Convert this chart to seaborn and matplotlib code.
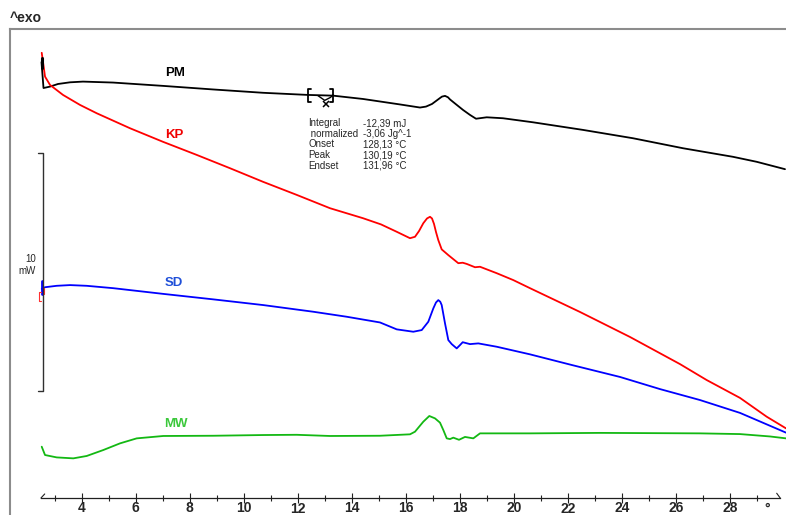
import matplotlib
matplotlib.use("Agg")
import matplotlib.pyplot as plt
from matplotlib.transforms import ScaledTranslation
import numpy as np
import pandas as pd
import seaborn as sns

# ---- DSC traces (x: time axis units, y: heat flow in mW, curves offset) ----
pm_x = [2.511, 2.585, 2.826, 3.122, 3.567, 4.048, 5.159, 7.011, 8.863, 10.715,
        12.381, 13.307, 14.419, 15.789, 16.530, 16.752, 16.974, 17.270, 17.344,
        17.456, 17.567, 17.641, 17.826, 18.122, 18.381, 18.604, 19.000, 19.604,
        20.715, 22.567, 24.419, 26.270, 28.122, 29.000, 30.048]
pm_y = [19.03, 17.94, 18.00, 18.11, 18.18, 18.21, 18.17, 18.03, 17.88, 17.74,
        17.65, 17.62, 17.48, 17.25, 17.12, 17.16, 17.27, 17.52, 17.58,
        17.61, 17.55, 17.46, 17.29, 17.02, 16.81, 16.65, 16.71, 16.67,
        16.50, 16.18, 15.83, 15.41, 15.05, 14.84, 14.53]

kp_x = [2.519, 2.641, 2.826, 3.307, 3.937, 4.556, 5.789, 7.011, 8.259, 9.493,
        10.715, 11.963, 13.196, 14.419, 15.085, 15.667, 16.159, 16.344, 16.493,
        16.652, 16.789, 16.900, 16.974, 17.048, 17.122, 17.207, 17.333, 17.578,
        17.948, 18.111, 18.259, 18.567, 18.752, 19.370, 19.985, 20.604, 22.456,
        24.307, 26.159, 27.148, 28.381, 29.370, 30.085]
kp_y = [19.42, 18.42, 18.07, 17.65, 17.23, 16.88, 16.25, 15.68, 15.13, 14.57,
        14.00, 13.45, 12.89, 12.47, 12.21, 11.90, 11.63, 11.69, 11.93,
        12.26, 12.46, 12.53, 12.46, 12.23, 11.89, 11.55, 11.16, 10.92,
        10.58, 10.60, 10.55, 10.41, 10.43, 10.16, 9.87, 9.53, 8.53,
        7.48, 6.34, 5.67, 4.92, 4.13, 3.64]

sd_x = [2.519, 2.641, 3.074, 3.567, 4.185, 5.170, 7.022, 8.874, 10.726, 12.578,
        13.815, 15.048, 15.667, 16.281, 16.593, 16.837, 17.022, 17.122, 17.207,
        17.280, 17.333, 17.456, 17.578, 17.704, 17.889, 18.011, 18.111, 18.381,
        18.689, 19.370, 20.604, 22.159, 23.937, 25.419, 26.900, 28.381, 30.085]
sd_y = [9.50, 9.57, 9.63, 9.66, 9.63, 9.53, 9.29, 9.06, 8.82, 8.54,
        8.33, 8.09, 7.80, 7.70, 7.77, 8.12, 8.68, 8.93, 9.03,
        8.96, 8.82, 8.05, 7.35, 7.18, 7.00, 7.14, 7.26, 7.18,
        7.21, 7.07, 6.75, 6.30, 5.80, 5.29, 4.83, 4.29, 3.46]

mw_x = [2.519, 2.641, 3.074, 3.689, 4.185, 4.800, 5.419, 6.037, 7.022, 8.874,
        10.726, 11.963, 13.196, 15.048, 16.159, 16.344, 16.652, 16.874, 17.085,
        17.270, 17.393, 17.519, 17.641, 17.763, 17.974, 18.196, 18.504, 18.752,
        19.370, 20.604, 23.196, 26.900, 28.381, 29.493, 30.085]
mw_y = [2.87, 2.52, 2.42, 2.38, 2.48, 2.73, 3.01, 3.22, 3.32, 3.33,
        3.36, 3.37, 3.32, 3.33, 3.39, 3.50, 3.92, 4.16, 4.06,
        3.88, 3.57, 3.22, 3.19, 3.25, 3.16, 3.28, 3.22, 3.43,
        3.43, 3.43, 3.45, 3.43, 3.40, 3.30, 3.22]

curve_names = ["PM", "KP", "SD", "MW"]
line_colors = ["#000000", "#ff0000", "#0000ff", "#13b813"]
label_colors = ["#000000", "#f00000", "#1f4fd8", "#3cc83c"]
label_pos = [(7.44, 18.57), (7.42, 15.97), (7.42, 9.75), (7.49, 3.82)]

major_ticks = [4, 6, 8, 10, 12, 14, 16, 18, 20, 22, 24, 26, 28]
minor_ticks = [3, 5, 7, 9, 11, 13, 15, 17, 19, 21, 23, 25, 27, 29]
tick_labels = [str(t) for t in major_ticks]

result_names = ["Integral", " normalized", "Onset", "Peak", "Endset"]
result_values = ["-12,39 mJ", "-3,06 Jg^-1", "128,13 °C", "130,19 °C", "131,96 °C"]

# ---- figure ----
sns.set_style("white")
plt.rcParams["font.family"] = ["Liberation Sans", "DejaVu Sans"]

fig = plt.figure(figsize=(7.86, 5.15), dpi=100)
ax = fig.add_axes([10 / 786, 0, 776 / 786, 486 / 515])
ax.set_xlim(1.344, 30.085)
ax.set_ylim(0, 20.42)

frame_gray = "#8c8c8c"
for side in ("left", "top"):
    ax.spines[side].set_color(frame_gray)
    ax.spines[side].set_linewidth(1.5)
ax.spines["right"].set_visible(False)

# curves
for name, xs, ys, col in zip(curve_names, [pm_x, kp_x, sd_x, mw_x],
                             [pm_y, kp_y, sd_y, mw_y], line_colors):
    df = pd.DataFrame({"t": xs, "hf": ys})
    sns.lineplot(data=df, x="t", y="hf", color=col, lw=1.3, sort=False,
                 estimator=None, ax=ax)
ax.set_xlabel("")
ax.set_ylabel("")

# time axis drawn as a floating spine
axis_y = 0.714
ax.spines["bottom"].set_position(("data", axis_y))
ax.spines["bottom"].set_bounds(2.49, 29.87)
ax.spines["bottom"].set_color("#202020")
ax.spines["bottom"].set_linewidth(0.9)
ax.set_yticks([])
ax.set_xticks(major_ticks)
ax.set_xticklabels(tick_labels, fontsize=10, fontweight="bold")
ax.set_xticks(minor_ticks, minor=True)
ax.tick_params(axis="x", which="both", bottom=True)
ax.tick_params(axis="x", which="major", direction="inout", length=7.5,
               width=0.8, color="#202020", pad=-1.6)
ax.tick_params(axis="x", which="minor", direction="inout", length=4.5,
               width=0.8, color="#202020")
for lbl in ax.get_xticklabels():
    if lbl.get_text() in ("12", "22"):
        lbl.set_transform(lbl.get_transform()
                          + ScaledTranslation(0, -1 / 100, fig.dpi_scale_trans))
# little slanted end marks of the axis
ax.plot([2.49, 2.63], [axis_y, axis_y + 0.17], color="#202020", lw=0.8)
ax.plot([29.74, 29.87], [axis_y + 0.2, axis_y], color="#202020", lw=0.8)
ax.text(29.37, 0.55, "°", ha="center", va="top",
        fontsize=10, fontweight="bold")

for name, (lx, ly), col in zip(curve_names, label_pos, label_colors):
    ax.text(lx, ly, name, color=col, fontsize=9.5, fontweight="bold",
            ha="center", va="center")

# start markers of the traces
ax.plot([2.52, 2.52], [18.8, 19.2], color="#000000", lw=2.2)
ax.plot([2.52, 2.52], [9.3, 9.85], color="#0000ff", lw=2.0)
ax.plot([2.48, 2.41, 2.41, 2.48], [9.35, 9.35, 9.0, 9.0], color="#ff3030", lw=0.8)
ax.plot([2.55, 2.60, 2.60, 2.55], [9.52, 9.52, 9.30, 9.30], color="#ff3030", lw=0.8)

# integration limits and baseline on PM
for bx, hook in ((12.381, 0.1), (13.307, -0.1)):
    ax.plot([bx + hook, bx, bx, bx + hook], [17.90, 17.90, 17.37, 17.37],
            color="#000000", lw=1.3)
ax.plot([12.75, 13.0, 13.22, 13.307], [17.62, 17.42, 17.55, 17.66],
        color="#000000", lw=1.0)
ax.plot([13.037], [17.28], marker="x", color="#000000", ms=5, mew=1.1)

# result table
row_y = [16.47, 16.02, 15.57, 15.12, 14.67]
for ry, nm, val in zip(row_y, result_names, result_values):
    ax.text(12.39, ry, nm, fontsize=7, ha="left", va="center")
    ax.text(14.43, ry, val, fontsize=7, ha="left", va="center")

# 10 mW scale bar
bar_x = 2.556
ax.plot([bar_x - 0.17, bar_x, bar_x, bar_x - 0.17], [15.22, 15.22, 5.22, 5.22],
        color="#303030", lw=1.0)
ax.text(2.30, 10.77, "10", fontsize=7, ha="right", va="center")
ax.text(2.30, 10.27, "mW", fontsize=7, ha="right", va="center")

fig.text(10 / 786, 1 - 22 / 515, "^exo", fontsize=10, fontweight="bold",
         ha="left", va="baseline")

fig.savefig("out.png", dpi=100)
